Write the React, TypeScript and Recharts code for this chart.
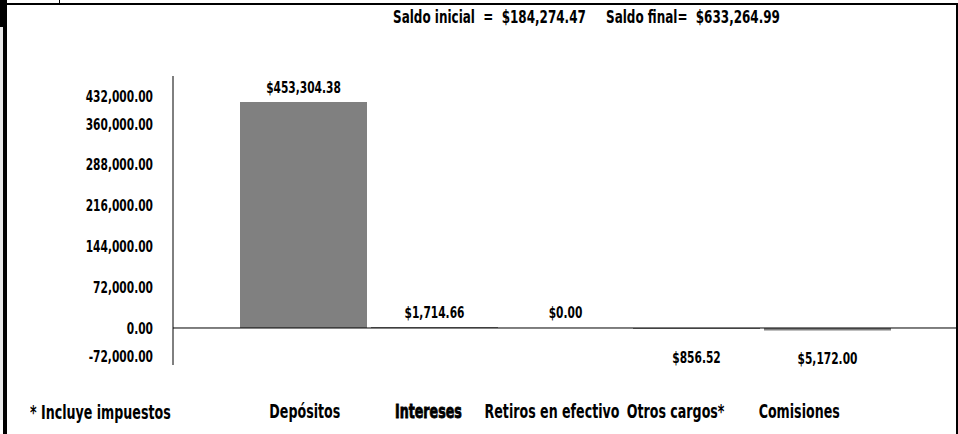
import React from "react";
import { BarChart, Bar, XAxis, YAxis, ReferenceLine, LabelList, Cell } from "recharts";

const categories = ["Depósitos", "Intereses", "Retiros en efectivo", "Otros cargos*", "Comisiones"];
const amounts = [453304.38, 1714.66, 0, -856.52, -5172.0];
const yTicks = [-72000, 0, 72000, 144000, 216000, 288000, 360000, 432000];
const saldoInicial = 184274.47;
const saldoFinal = 633264.99;

const FONT = "'DejaVu Sans Condensed', 'DejaVu Sans', sans-serif";
const SX = 0.74; // the original font is much narrower
const W = 958;
const H = 434;
const PLOT_TOP = 76;
const PLOT_BOTTOM = 365;

const rows = categories.map((name, i) => ({ name, value: amounts[i] }));

const money = (v: number) =>
  "$" + Math.abs(v).toLocaleString("en-US", { minimumFractionDigits: 2, maximumFractionDigits: 2 });
const plain = (v: number) =>
  v.toLocaleString("en-US", { minimumFractionDigits: 2, maximumFractionDigits: 2 });

const NarrowText = ({ x, y, anchor, heavy, size = 16, children }: any) => (
  <text
    transform={`translate(${x} ${y}) scale(${SX} 1)`}
    textAnchor={anchor}
    dominantBaseline="central"
    fontFamily={FONT}
    fontSize={size}
    fontWeight="bold"
    fill="#000"
    stroke={heavy ? "#000" : "none"}
    strokeWidth={heavy ? 0.8 : 0}
  >
    {children}
  </text>
);

// tick labels are kept inside the axis, like the original
const YTick = ({ x, y, payload }: any) => {
  const yy = Math.min(Math.max(y, PLOT_TOP + 20), PLOT_BOTTOM - 9);
  return (
    <NarrowText x={x} y={yy} anchor="end">
      {plain(payload.value)}
    </NarrowText>
  );
};

const XTick = ({ x, y, payload }: any) => (
  <NarrowText x={x} y={y + 38} anchor="middle" size={19} heavy={payload.value === "Intereses"}>
    {payload.value}
  </NarrowText>
);

const BarValue = ({ x, y, width, height, value }: any) => {
  const top = Math.min(y, y + height);
  const bottom = Math.max(y, y + height);
  const cy = value >= 0 ? top - 15 : bottom + 28;
  return (
    <NarrowText x={x + width / 2} y={cy} anchor="middle">
      {money(value)}
    </NarrowText>
  );
};

const htmlText: React.CSSProperties = {
  position: "absolute",
  fontFamily: FONT,
  fontWeight: "bold",
  whiteSpace: "pre",
  color: "#000",
  transform: `scaleX(${SX})`,
  transformOrigin: "left center",
};

export default function App() {
  return (
    <div style={{ position: "absolute", left: 0, top: 0, width: W, height: H, background: "#fff", overflow: "hidden" }}>
      {/* frame bits */}
      <div style={{ position: "absolute", left: 0, top: 0, width: 7, height: 27, background: "#000" }} />
      <div style={{ position: "absolute", left: 0, top: 27, width: 3, height: 393, background: "#e8e8e8" }} />
      <div style={{ position: "absolute", left: 3, top: 27, width: 4, height: 407, background: "#000" }} />
      <div style={{ position: "absolute", left: 7, top: 3, width: 951, height: 2, background: "#000" }} />
      <div style={{ position: "absolute", left: 59, top: 0, width: 1, height: 3, background: "#000" }} />
      <div style={{ position: "absolute", left: 956, top: 3, width: 2, height: 431, background: "#000" }} />

      <div style={{ ...htmlText, left: 393, top: 7, fontSize: 18, lineHeight: "20px" }}>
        {`Saldo inicial  =  ${money(saldoInicial)}`}
      </div>
      <div style={{ ...htmlText, left: 606, top: 7, fontSize: 18, lineHeight: "20px" }}>
        {`Saldo final=  ${money(saldoFinal)}`}
      </div>
      <div style={{ ...htmlText, left: 30, top: 400, fontSize: 19, lineHeight: "24px" }}>* Incluye impuestos</div>

      <BarChart
        width={W}
        height={H}
        data={rows}
        barCategoryGap={2}
        margin={{ top: PLOT_TOP, right: 2, bottom: 9, left: 8 }}
      >
        <XAxis xAxisId="bars" dataKey="name" orientation="top" height={0} hide padding={{ left: 65, right: 63 }} />
        <XAxis
          xAxisId="labels"
          dataKey="name"
          axisLine={false}
          tickLine={false}
          height={H - PLOT_BOTTOM - 9}
          padding={{ left: 70, right: 95 }}
          interval={0}
          tick={<XTick />}
        />
        <YAxis
          yAxisId="ticks"
          width={165}
          domain={[-65294, 444706]}
          ticks={yTicks}
          interval={0}
          allowDataOverflow
          tickSize={0}
          tickMargin={20}
          tickLine={false}
          axisLine={{ stroke: "#000", strokeWidth: 1 }}
          tick={<YTick />}
        />
        <YAxis yAxisId="bars" orientation="right" width={0} hide domain={[-74215, 505460]} allowDataOverflow />
        <Bar xAxisId="bars" yAxisId="bars" dataKey="value" fill="#808080" minPointSize={1} isAnimationActive={false}>
          {rows.map((r) => (
            <Cell key={r.name} fill={r.value === 0 ? "transparent" : "#808080"} />
          ))}
          <LabelList dataKey="value" content={<BarValue />} />
        </Bar>
        <ReferenceLine xAxisId="bars" yAxisId="bars" y={0} stroke="#000" strokeWidth={1} />
      </BarChart>
    </div>
  );
}
